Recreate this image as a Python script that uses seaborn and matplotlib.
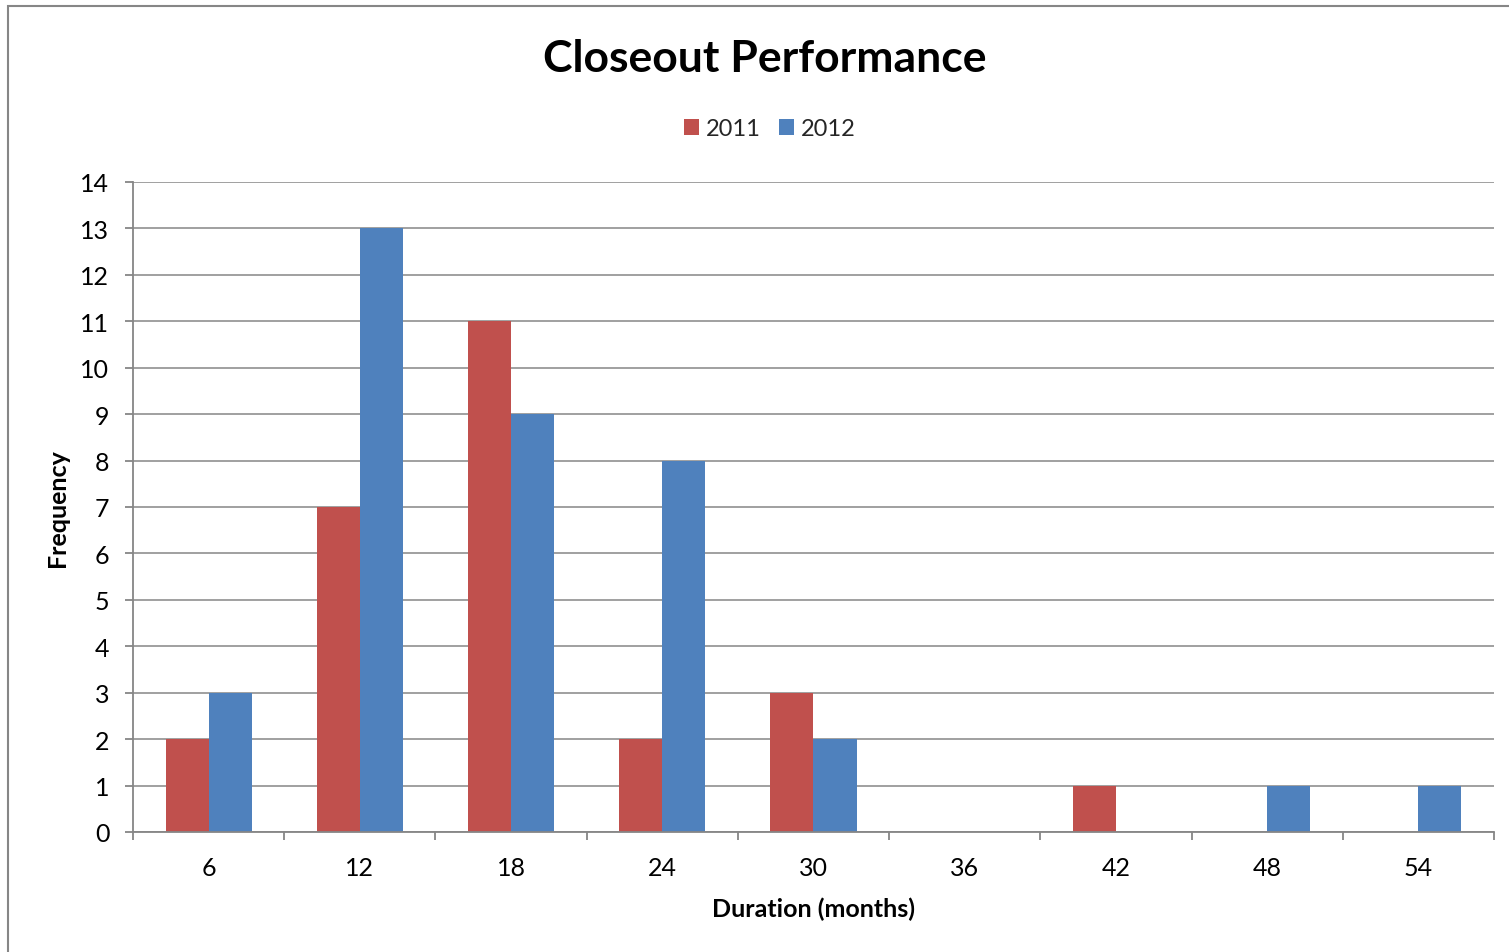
import matplotlib
matplotlib.use("Agg")
import matplotlib.pyplot as plt
import matplotlib.patches as mpatches
from matplotlib.ticker import MultipleLocator, FixedLocator
import numpy as np
import pandas as pd
import seaborn as sns

# Closeout durations (months) and how many closeouts fell in each bin
durations = [6, 12, 18, 24, 30, 36, 42, 48, 54]
freq_2011 = [2, 7, 11, 2, 3, 0, 1, 0, 0]
freq_2012 = [3, 13, 9, 8, 2, 0, 0, 1, 1]
years = ["2011", "2012"]
colors = ["#C0504D", "#4F81BD"]

df = pd.DataFrame({
    "Duration": [str(d) for d in durations] * 2,
    "Frequency": freq_2011 + freq_2012,
    "Year": [years[0]] * len(durations) + [years[1]] * len(durations),
})

sns.set_theme(style="white")
plt.rcParams["font.family"] = ["Lato", "DejaVu Sans"]

W, H = 1509, 953
fig = plt.figure(figsize=(W / 100, H / 100), dpi=100)
ax = fig.add_axes([133 / W, 1 - 833 / H, (1494 - 133) / W, (833 - 183) / H])

grid_c = "#868686"

sns.barplot(data=df, x="Duration", y="Frequency", hue="Year",
            palette=colors, width=0.57, saturation=1, ax=ax,
            order=[str(d) for d in durations], hue_order=years, linewidth=0)

ax.set_xlim(-0.5, len(durations) - 0.5)
ax.set_ylim(0, 14)
ax.yaxis.set_major_locator(MultipleLocator(1))
ax.grid(axis="y", color=grid_c, linewidth=1.1)
ax.set_axisbelow(True)

for side in ["top", "right"]:
    ax.spines[side].set_visible(False)
for side in ["left", "bottom"]:
    ax.spines[side].set_color(grid_c)
    ax.spines[side].set_linewidth(1.3)

# Category boundaries carry the x tick marks; labels sit at category centres
ax.xaxis.set_minor_locator(FixedLocator(np.arange(-0.5, len(durations), 1.0)))
ax.tick_params(axis="x", which="minor", bottom=True, length=6, width=1.3,
               color=grid_c, direction="out")
ax.tick_params(axis="x", which="major", bottom=True, length=0, pad=17,
               labelsize=18, labelcolor="black")
ax.tick_params(axis="y", which="major", left=True, length=6, width=1.3,
               color=grid_c, direction="out", pad=11, labelsize=18,
               labelcolor="black")

ax.set_xlabel("Duration (months)", fontsize=18, fontweight="bold", color="black")
ax.set_ylabel("Frequency", fontsize=18, fontweight="bold", color="black")
ax.xaxis.set_label_coords(0.5, (833 - 898) / 650)
ax.yaxis.set_label_coords((69 - 133) / 1361, 0.5)

fig.text(765 / W, 1 - 59 / H, "Closeout Performance", ha="center", va="center",
         fontsize=32, fontweight="bold", color="black")

handles, labels = ax.get_legend_handles_labels()
ax.legend(handles, labels, loc="center", bbox_to_anchor=(770 / W, 1 - 130 / H),
          bbox_transform=fig.transFigure, ncol=2, frameon=False, fontsize=17,
          handlelength=0.65, handleheight=0.65, handletextpad=0.3,
          columnspacing=0.75, borderpad=0)

# Chart-area frame (left and top edges)
frame = mpatches.Rectangle((7.5 / W, -0.2), 1.5, 1 - 6.5 / H + 0.2,
                           transform=fig.transFigure, fill=False,
                           edgecolor=grid_c, linewidth=1.5, clip_on=False)
fig.patches.append(frame)

fig.savefig("out.png", dpi=100, facecolor="white")
